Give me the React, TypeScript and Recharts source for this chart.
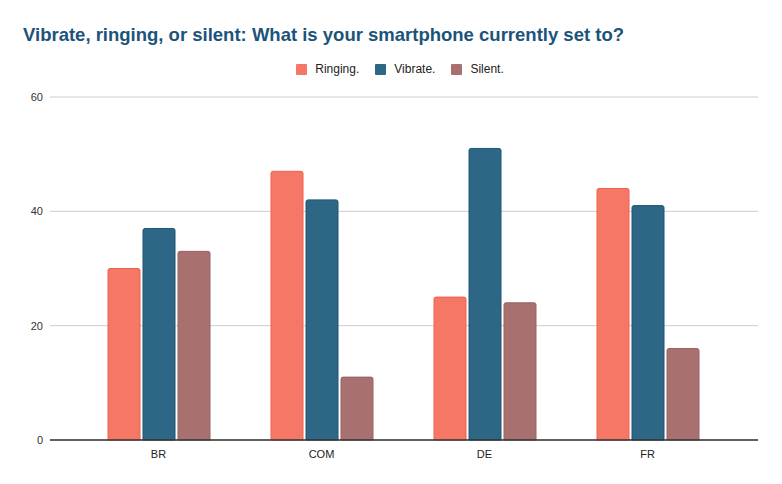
import { BarChart, Bar, XAxis, YAxis, CartesianGrid, ReferenceLine } from "recharts";

const categories = ["BR", "COM", "DE", "FR"];
const ringing = [30, 47, 25, 44];
const vibrate = [37, 42, 51, 41];
const silent = [33, 11, 24, 16];
const yTicks = [0, 20, 40, 60];

const series = [
  { key: "ringing", name: "Ringing.", fill: "#f47865", stroke: "#f0604c" },
  { key: "vibrate", name: "Vibrate.", fill: "#2e6686", stroke: "#1f5574" },
  { key: "silent", name: "Silent.", fill: "#a8706e", stroke: "#9a6260" },
];

const data = categories.map((name, i) => ({
  name,
  ringing: ringing[i],
  vibrate: vibrate[i],
  silent: silent[i],
}));

const font = "'Liberation Sans', Arial, sans-serif";

export default function App() {
  return (
    <div style={{ position: "absolute", left: 0, top: 0, width: 782, height: 484, background: "#fff", fontFamily: font }}>
      <div style={{ position: "absolute", left: 23, top: 24, fontSize: 18.5, fontWeight: "bold", color: "#1c5479", whiteSpace: "nowrap" }}>
        Vibrate, ringing, or silent: What is your smartphone currently set to?
      </div>
      <div style={{ position: "absolute", left: 0, top: 62, width: 782, display: "flex", justifyContent: "center", paddingLeft: 18, boxSizing: "border-box", fontSize: 12, color: "#222" }}>
        {series.map((s) => (
          <div key={s.key} style={{ display: "flex", alignItems: "center", margin: "0 8px" }}>
            <span style={{ width: 11, height: 11, background: s.fill, borderRadius: 1, marginRight: 8, display: "inline-block" }} />
            <span>{s.name}</span>
          </div>
        ))}
      </div>
      <BarChart
        width={782}
        height={484}
        data={data}
        margin={{ top: 97, right: 24, bottom: 14, left: 0 }}
        barGap={3}
        barSize={32}
      >
        <CartesianGrid vertical={false} stroke="#cccccc" />
        <XAxis
          dataKey="name"
          axisLine={false}
          tickLine={false}
          tickSize={0}
          tickMargin={10}
          height={30}
          padding={{ left: 27, right: 29 }}
          tick={{ fill: "#222", fontSize: 11, fontFamily: font }}
        />
        <YAxis
          domain={[0, 60]}
          ticks={yTicks}
          axisLine={false}
          tickLine={false}
          tickSize={0}
          tickMargin={7}
          width={50}
          tick={{ fill: "#333", fontSize: 11, fontFamily: font }}
        />
        <ReferenceLine y={0} stroke="#333" strokeWidth={1.5} />
        {series.map((s) => (
          <Bar
            key={s.key}
            dataKey={s.key}
            name={s.name}
            fill={s.fill}
            stroke={s.stroke}
            strokeWidth={1}
            radius={[2, 2, 0, 0]}
            isAnimationActive={false}
          />
        ))}
      </BarChart>
    </div>
  );
}
